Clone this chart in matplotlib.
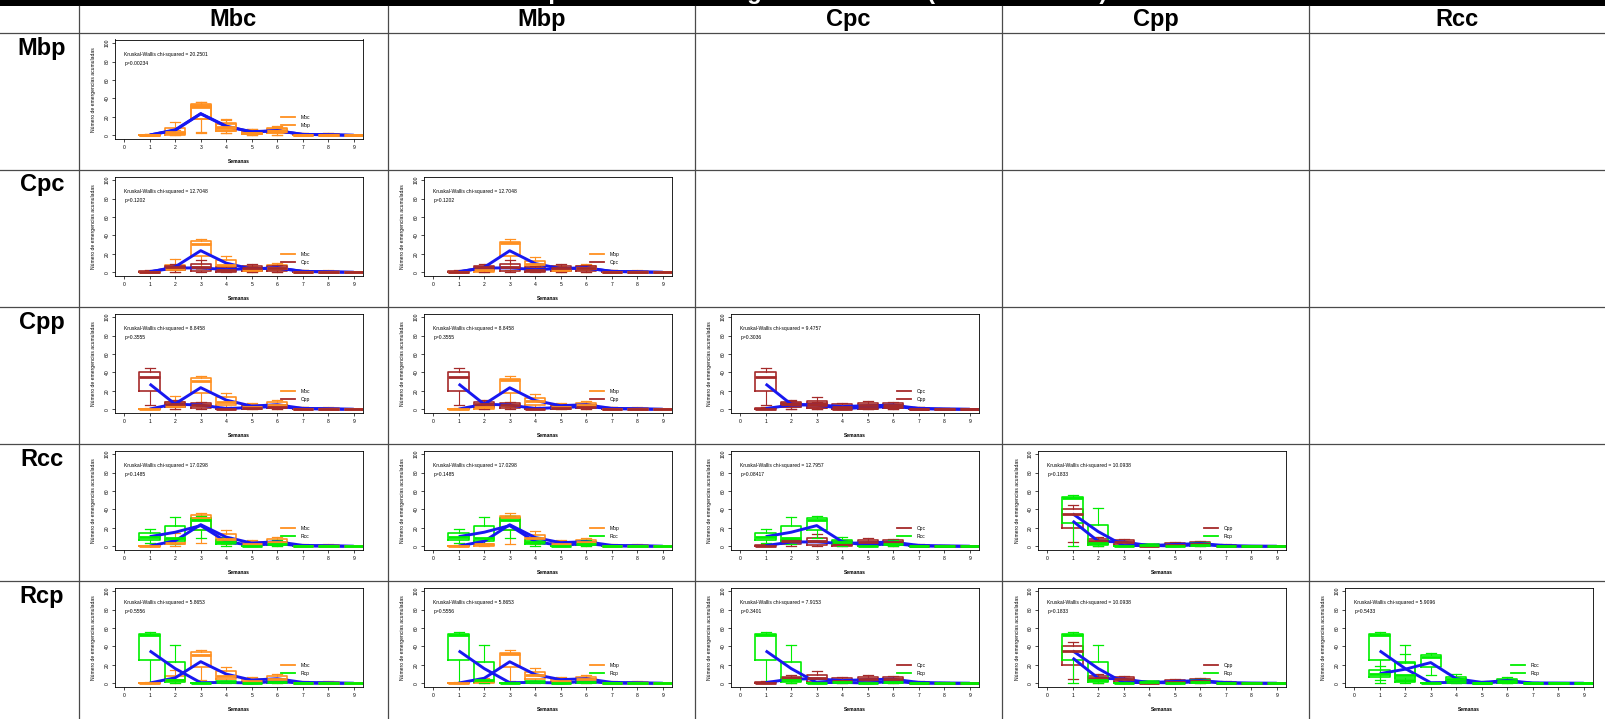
import matplotlib
matplotlib.use("Agg")
import matplotlib.pyplot as plt
from matplotlib.lines import Line2D

plt.rcParams['font.family'] = ['Liberation Sans', 'DejaVu Sans']

W, H = 1606, 719
weeks = [1, 2, 3, 4, 5, 6, 7, 8, 9]

# ---- weekly box statistics per treatment (whisker low, Q1, median, Q3, whisker high) and weekly mean ----
mbc_lo = [0, 0, 4, 3, 0, 0, 0, 0, 0]
mbc_q1 = [0, 2, 18, 5, 1, 2, 0, 0, 0]
mbc_med = [0, 4, 31, 8, 2.5, 5, 0.5, 0, 0]
mbc_q3 = [0.5, 8, 33.5, 13, 5, 7.5, 1.5, 1, 0]
mbc_hi = [1, 14, 36, 18, 7, 10, 3, 3, 0]
mbc_mean = [0.3, 6, 23.5, 10, 3.5, 5, 1, 0.6, 0]

mbp_lo = [0, 0, 3, 3, 0, 0, 0, 0, 0]
mbp_q1 = [0, 0.5, 18, 5, 1, 2, 0, 0, 0]
mbp_med = [0, 2, 31.5, 9, 3, 5, 0.5, 0, 0]
mbp_q3 = [0.5, 3, 33, 12.5, 5, 7, 1.5, 1, 0]
mbp_hi = [1, 6, 36, 17, 7, 9, 3, 2.5, 0]
mbp_mean = [0.3, 5.5, 23.4, 9.5, 4, 5, 1, 0.6, 0]

cpc_lo = [0, 0, 0, 0, 0, 0, 0, 0, 0]
cpc_q1 = [0, 2.5, 1.8, 0, 1, 1.8, 0, 0, 0]
cpc_med = [0.5, 5.5, 5.5, 3, 4.7, 4.7, 0.5, 0, 0]
cpc_q3 = [1.5, 7.3, 9, 5.5, 6.5, 7.3, 1.5, 0.5, 0]
cpc_hi = [3, 9, 13, 7.3, 9, 8.4, 2.5, 1, 0]
cpc_mean = [0.8, 4.7, 4.8, 3, 4, 4.5, 1, 0.3, 0]

cpp_lo = [5, 0, 0, 0, 0, 0, 0, 0, 0]
cpp_q1 = [20, 2.5, 1, 0, 0.5, 1, 0, 0, 0]
cpp_med = [35, 5.5, 4.7, 0.5, 1.5, 2.5, 0.5, 0, 0]
cpp_q3 = [40, 8.4, 6.5, 1.5, 3.5, 4.5, 1, 0, 0]
cpp_hi = [44.5, 10, 7.6, 3, 5, 6, 2, 0.5, 0]
cpp_mean = [27.5, 5.5, 4.7, 0.8, 2, 3, 0.8, 0.2, 0]

rcc_lo = [3.6, 2, 9, 0, 0, 0, 0, 0, 0]
rcc_q1 = [6.9, 6, 17.8, 2.5, 0, 1, 0, 0, 0]
rcc_med = [9.8, 9, 28.7, 4.5, 0.5, 3, 0, 0, 0]
rcc_q3 = [14, 21.8, 31, 7, 1.5, 5, 0.5, 0, 0]
rcc_hi = [18.9, 32, 32.7, 10, 3, 7, 1, 0.5, 0]
rcc_mean = [10.5, 15.3, 22.5, 5, 1, 3, 0.3, 0.2, 0]

rcp_lo = [0, 0, 0, 0, 0, 0, 0, 0, 0]
rcp_q1 = [25.5, 1.8, 0, 0, 0, 0.5, 0, 0, 0]
rcp_med = [52.7, 3.6, 0, 1, 0, 1.5, 0, 0, 0]
rcp_q3 = [53.5, 23, 0.5, 2, 0.5, 3.5, 0, 0, 0]
rcp_hi = [55.3, 41.8, 1, 3, 1, 5, 0, 0, 0]
rcp_mean = [35.3, 16, 0.7, 1, 0.3, 2, 0.1, 0, 0]

treatments = {
    "Mbc": (mbc_lo, mbc_q1, mbc_med, mbc_q3, mbc_hi, mbc_mean),
    "Mbp": (mbp_lo, mbp_q1, mbp_med, mbp_q3, mbp_hi, mbp_mean),
    "Cpc": (cpc_lo, cpc_q1, cpc_med, cpc_q3, cpc_hi, cpc_mean),
    "Cpp": (cpp_lo, cpp_q1, cpp_med, cpp_q3, cpp_hi, cpp_mean),
    "Rcc": (rcc_lo, rcc_q1, rcc_med, rcc_q3, rcc_hi, rcc_mean),
    "Rcp": (rcp_lo, rcp_q1, rcp_med, rcp_q3, rcp_hi, rcp_mean),
}

treatment_colors = {
    "Mbc": "#FF9020", "Mbp": "#FF9020",
    "Cpc": "#A52A2A", "Cpp": "#A52A2A",
    "Rcc": "#00EE00", "Rcp": "#00EE00",
}
mean_color = "#1818F0"

# ---- table layout ----
col_headers = ["Mbc", "Mbp", "Cpc", "Cpp", "Rcc"]
row_headers = ["Mbp", "Cpc", "Cpp", "Rcc", "Rcp"]

# panels of the lower triangle: (row, col, first group, second group, chi-squared, p)
panel_rows = [0, 1, 1, 2, 2, 2, 3, 3, 3, 3, 4, 4, 4, 4, 4]
panel_cols = [0, 0, 1, 0, 1, 2, 0, 1, 2, 3, 0, 1, 2, 3, 4]
panel_first = ["Mbc", "Mbc", "Mbp", "Mbc", "Mbp", "Cpc", "Mbc", "Mbp", "Cpc", "Cpp",
               "Mbc", "Mbp", "Cpc", "Cpp", "Rcc"]
panel_second = ["Mbp", "Cpc", "Cpc", "Cpp", "Cpp", "Cpp", "Rcc", "Rcc", "Rcc", "Rcp",
                "Rcp", "Rcp", "Rcp", "Rcp", "Rcp"]
chi_squared = ["20.2501", "12.7048", "12.7048", "8.8458", "8.8458", "9.4757",
               "17.0298", "17.0298", "12.7957", "10.0938",
               "5.8653", "5.8653", "7.9153", "10.0938", "5.9096"]
p_values = ["0.00234", "0.1202", "0.1202", "0.3555", "0.3555", "0.3036",
            "0.1485", "0.1485", "0.08417", "0.1833",
            "0.5556", "0.5556", "0.3401", "0.1833", "0.5433"]

title_text = "Comparación de emergencias totales (Kruskal-Wallis)"

col_left = [79, 388, 695, 1002, 1309]
row_top = [33, 170, 307, 444, 581]
grid_color = "#4a4a4a"

fig = plt.figure(figsize=(W / 100, H / 100), dpi=100)
fig.patch.set_facecolor("white")

bg = fig.add_axes([0, 0, 1, 1], zorder=0)
bg.set_xlim(0, W)
bg.set_ylim(H, 0)
bg.axis("off")

# black title band; the title sits above the top edge so only its descenders show
bg.axhspan(0, 6, color="black", lw=0)
bg.text(1107, -0.5, title_text, color="white", fontsize=17.3, fontweight="bold",
        ha="right", va="baseline", clip_on=True)

# grid lines of the table
for y in row_top:
    bg.axhline(y, color=grid_color, lw=0.9)
for x in col_left:
    bg.plot([x, x], [6, H], color=grid_color, lw=0.9)

for j, name in enumerate(col_headers):
    right = col_left[j + 1] if j + 1 < len(col_left) else W
    bg.text((col_left[j] + right) / 2, 19.5, name, fontsize=17, fontweight="bold",
            ha="center", va="center")
for i, name in enumerate(row_headers):
    bg.text(42, row_top[i] + 15, name, fontsize=17, fontweight="bold",
            ha="center", va="center")


def box_stats(name):
    lo, q1, med, q3, hi, _ = treatments[name]
    return [dict(whislo=lo[k], q1=q1[k], med=med[k], q3=q3[k], whishi=hi[k], fliers=[])
            for k in range(len(weeks))]


fs = 3.6
for n in range(len(panel_rows)):
    r, c = panel_rows[n], panel_cols[n]
    g1, g2 = panel_first[n], panel_second[n]
    left = col_left[c] + 36
    top = row_top[r] + 6.5
    ax = fig.add_axes([left / W, 1 - (top + 99.5) / H, 248 / W, 99.5 / H], zorder=2)
    ax.set_facecolor("white")

    for g in (g1, g2):
        col = treatment_colors[g]
        ax.bxp(box_stats(g), positions=weeks, widths=0.8, showfliers=False,
               manage_ticks=False,
               boxprops=dict(color=col, lw=1.2),
               whiskerprops=dict(color=col, lw=0.8),
               capprops=dict(color=col, lw=0.9),
               medianprops=dict(color=col, lw=2.0))
    for g in (g1, g2):
        ax.plot(weeks, treatments[g][5], color=mean_color, lw=2.1, solid_capstyle="butt")

    ax.set_xlim(-0.36, 9.36)
    ax.set_ylim(-4, 104)
    ax.set_xticks(range(10))
    ax.set_xticklabels([str(v) for v in range(10)])
    ax.set_yticks([0, 20, 40, 60, 80, 100])
    ax.set_yticklabels(["0", "20", "40", "60", "80", "100"], rotation=90, va="center")
    ax.tick_params(length=2.5, width=0.5, labelsize=fs, pad=1.5)
    for s in ax.spines.values():
        s.set_linewidth(0.6)
        s.set_color("black")

    ax.set_xlabel("Semanas", fontsize=fs, fontweight="bold", va="center")
    ax.xaxis.set_label_coords(0.5, -22.7 / 99.5)
    ax.set_ylabel("Número de emergencias acumuladas", fontsize=fs, va="center")
    ax.yaxis.set_label_coords(-21 / 248, 0.5)

    ax.text(0.0, 88, "Kruskal-Wallis chi-squared = " + chi_squared[n], fontsize=fs,
            ha="left", va="center")
    ax.text(0.0, 78, "p=" + p_values[n], fontsize=fs, ha="left", va="center")

    handles = [Line2D([], [], color=treatment_colors[g1], lw=1.3),
               Line2D([], [], color=treatment_colors[g2], lw=1.3)]
    ax.legend(handles, [g1, g2], loc="center left", bbox_to_anchor=(6.15, 15),
              bbox_transform=ax.transData, frameon=False, fontsize=fs,
              handlelength=2.8, handletextpad=1.2, labelspacing=0.7,
              borderpad=0, borderaxespad=0)

fig.savefig("out.png", dpi=100, facecolor="white")
